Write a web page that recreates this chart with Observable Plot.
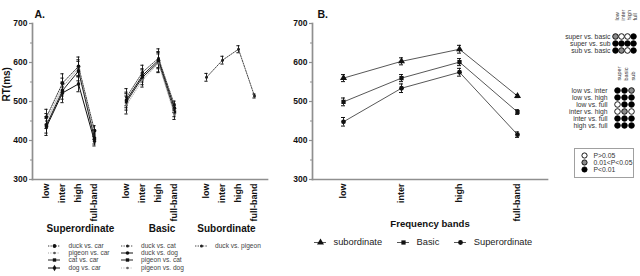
<!DOCTYPE html>
<html>
<head>
<meta charset="utf-8">
<script src="https://cdn.jsdelivr.net/npm/d3@7"></script>
<script src="https://cdn.jsdelivr.net/npm/@observablehq/plot@0.6"></script>
<style>
  html, body { margin: 0; padding: 0; background: #fff; }
  #root { position: relative; width: 640px; height: 276px; overflow: hidden; font-family: "Liberation Sans", Arial, sans-serif; }
  .abs { position: absolute; }
  .abs svg { display: block; }
  .lrow { display: flex; align-items: center; }
  .lrow svg { display: block; flex: none; }
</style>
</head>
<body>
<div id="root"></div>
<script>
// ---------------- data ----------------
const bands = ["low", "inter", "high", "full-band"];
const groupNames = ["Superordinate", "Basic", "Subordinate"];

const superSeries = ["duck vs. car", "pigeon vs. car", "cat vs. car", "dog vs. car"];
const superRT  = [[460, 547, 590, 425], [450, 537, 585, 415], [440, 528, 578, 405], [435, 522, 545, 398]];
const superErr = [[20, 24, 24, 13], [19, 23, 22, 12], [21, 22, 25, 14], [22, 25, 20, 12]];

const basicSeries = ["duck vs. cat", "duck vs. dog", "pigeon vs. cat", "pigeon vs. dog"];
const basicRT  = [[511, 575, 611, 491], [504, 567, 606, 483], [499, 562, 601, 473], [491, 555, 598, 466]];
const basicErr = [[22, 18, 24, 10], [20, 17, 22, 11], [21, 19, 25, 12], [23, 18, 24, 12]];

const subSeries = ["duck vs. pigeon"];
const subRT  = [[562, 606, 634, 514]];
const subErr = [[10, 10, 9, 5]];

const levels = ["subordinate", "Basic", "Superordinate"];
const levelRT  = [[560, 603, 634, 514], [499, 560, 601, 473], [448, 534, 575, 415]];
const levelErr = [[9, 9, 10, 4], [10, 9, 9, 6], [11, 11, 10, 7]];

const yTicks = [300, 400, 500, 600, 700];
const yMinor = [350, 450, 550, 650];

const cmpLevels = ["super vs. basic", "super vs. sub", "sub vs. basic"];
const cmpLevelCols = ["low", "inter", "high", "full"];
const cmpLevelSig = [[1, 0, 0, 2], [2, 2, 2, 2], [2, 1, 0, 2]];

const cmpBands = ["low vs. inter", "low vs. high", "low vs. full", "inter vs. high", "inter vs. full", "high vs. full"];
const cmpBandCols = ["super", "basic", "sub"];
const cmpBandSig = [[2, 2, 1], [2, 2, 2], [0, 2, 2], [0, 1, 0], [2, 2, 2], [2, 2, 2]];

const sigLabels = ["P>0.05", "0.01<P<0.05", "P<0.01"];

// ---------------- styles ----------------
const FONT = "'Liberation Sans', Arial, sans-serif";
const AXIS = "#8f8f8f";
const sigFill = ["#ffffff", "#8a8a8a", "#000000"];
const seriesStyle = {
  "duck vs. car":    {stroke: "#222", width: 0.9, dash: "1.3,1.2", symbol: "circle",  r: 1.9, fill: "#111"},
  "pigeon vs. car":  {stroke: "#999", width: 0.9, dash: "1,1.4",   symbol: "circle",  r: 1.3, fill: "#555"},
  "cat vs. car":     {stroke: "#222", width: 1.0, dash: null,      symbol: "square",  r: 1.9, fill: "#111"},
  "dog vs. car":     {stroke: "#111", width: 1.0, dash: null,      symbol: "diamond", r: 2.0, fill: "#111"},
  "duck vs. cat":    {stroke: "#333", width: 0.9, dash: "1.3,1.2", symbol: "circle",  r: 1.5, fill: "#222"},
  "duck vs. dog":    {stroke: "#111", width: 1.0, dash: null,      symbol: "circle",  r: 1.8, fill: "#111"},
  "pigeon vs. cat":  {stroke: "#222", width: 1.0, dash: null,      symbol: "square",  r: 1.9, fill: "#111"},
  "pigeon vs. dog":  {stroke: "#aaa", width: 0.9, dash: "1,1.4",   symbol: "circle",  r: 1.3, fill: "#666"},
  "duck vs. pigeon": {stroke: "#333", width: 0.9, dash: "1.4,1.2", symbol: "circle",  r: 1.5, fill: "#222"}
};
const levelStyle = {
  "subordinate":   {stroke: "#444", width: 0.9, dash: null, symbol: "triangle", r: 2.6, fill: "#111"},
  "Basic":         {stroke: "#444", width: 0.9, dash: null, symbol: "square",   r: 2.4, fill: "#111"},
  "Superordinate": {stroke: "#444", width: 0.9, dash: null, symbol: "circle",   r: 2.4, fill: "#111"}
};
const groupLabelDx = {"Superordinate": 18, "Basic": 19.5, "Subordinate": 4};
const baseStyle = {background: "transparent", overflow: "visible", fontFamily: FONT};

const root = document.getElementById("root");
function place(node, left, top) {
  const d = document.createElement("div");
  d.className = "abs";
  d.style.left = left + "px";
  d.style.top = top + "px";
  d.append(node);
  root.append(d);
  return d;
}

function errorMarks(d, xKey, w) {
  return [
    Plot.ruleX(d, {x: xKey, y1: r => r.rt - r.err, y2: r => r.rt + r.err, stroke: "#111", strokeWidth: 0.9}),
    Plot.ruleY(d, {x1: xKey, x2: xKey, y: r => r.rt - r.err, insetLeft: -w, insetRight: -w, stroke: "#111", strokeWidth: 1}),
    Plot.ruleY(d, {x1: xKey, x2: xKey, y: r => r.rt + r.err, insetLeft: -w, insetRight: -w, stroke: "#111", strokeWidth: 1})
  ];
}

function yAxisMarks() {
  return [
    Plot.axisY(yTicks, {tickSize: 3, tickPadding: 2, stroke: AXIS, strokeWidth: 1.2, fill: "#111",
      fontWeight: "bold", fontSize: 8.5, label: null}),
    Plot.axisY(yMinor, {tickSize: 2, tickFormat: () => "", stroke: AXIS, strokeWidth: 1.2, label: null}),
    Plot.frame({anchor: "left", stroke: AXIS, strokeWidth: 1.7}),
    Plot.frame({anchor: "bottom", stroke: AXIS, strokeWidth: 1.7})
  ];
}

// ---------------- Panel A ----------------
const groupsA = [
  {name: groupNames[0], series: superSeries, rt: superRT, err: superErr},
  {name: groupNames[1], series: basicSeries, rt: basicRT, err: basicErr},
  {name: groupNames[2], series: subSeries, rt: subRT, err: subErr}
];
const xKeys = [];
groupsA.forEach((g, gi) => {
  if (gi) xKeys.push("gap" + gi);
  bands.forEach(b => xKeys.push(g.name + "|" + b));
});
const tickKeys = xKeys.filter(k => k.includes("|"));
const rowsA = groupsA.flatMap(g => g.series.flatMap((s, si) => bands.map((b, bi) => ({
  group: g.name, series: s, key: g.name + "|" + b, rt: g.rt[si][bi], err: g.err[si][bi]
}))));

const seriesMarksA = groupsA.flatMap(g => g.series.flatMap(s => {
  const st = seriesStyle[s];
  const d = rowsA.filter(r => r.series === s);
  return [
    Plot.line(d, {x: "key", y: "rt", stroke: st.stroke, strokeWidth: st.width, strokeDasharray: st.dash || undefined}),
    ...errorMarks(d, "key", 1.6),
    Plot.dot(d, {x: "key", y: "rt", symbol: st.symbol, r: st.r, fill: st.fill, stroke: "none"})
  ];
}));

const plotA = Plot.plot({
  width: 280, height: 276,
  marginLeft: 32, marginRight: 13, marginTop: 23, marginBottom: 97,
  style: baseStyle,
  x: {type: "point", domain: xKeys, padding: 0.5, axis: null, label: null},
  y: {domain: [300, 700], axis: null, label: null},
  marks: [
    ...yAxisMarks(),
    Plot.axisX(tickKeys, {tickFormat: k => k.split("|")[1], tickRotate: -90, tickSize: 0, tickPadding: 4,
      fontWeight: "bold", fontSize: 9, fill: "#111", label: null}),
    ...seriesMarksA,
    ...groupNames.map(n => Plot.text([n], {x: () => n + "|inter", text: d => d, frameAnchor: "bottom", dy: 52,
      dx: groupLabelDx[n], fontWeight: "bold", fontSize: 10, fill: "#111"})),
    Plot.text(["RT(ms)"], {frameAnchor: "left", rotate: -90, dx: -26, fontWeight: "bold", fontSize: 10, fill: "#111"}),
    Plot.text(["A."], {frameAnchor: "top-left", dx: 2, dy: -13, textAnchor: "start", fontWeight: "bold", fontSize: 10.5, fill: "#111"})
  ]
});
place(plotA, 0, 0);

// legend swatches (small Plot charts)
function swatch(st, w = 12, h = 7) {
  return Plot.plot({
    width: w, height: h, margin: 0, style: baseStyle,
    x: {domain: [0, 1], axis: null}, y: {domain: [0, 1], axis: null},
    marks: [
      Plot.ruleY([0.5], {stroke: st.stroke, strokeWidth: st.width, strokeDasharray: st.dash || undefined}),
      Plot.dot([[0.5, 0.5]], {x: d => d[0], y: d => d[1], symbol: st.symbol, r: st.r, fill: st.fill, stroke: "none"})
    ]
  });
}
function legendA(series, left, top) {
  const box = document.createElement("div");
  series.forEach(s => {
    const row = document.createElement("div");
    row.className = "lrow";
    row.style.height = "7.2px";
    const sw = swatch(seriesStyle[s]);
    sw.style.marginRight = "8.5px";
    const t = document.createElement("span");
    t.textContent = s;
    t.style.cssText = "font-size:6.6px;color:#444;line-height:7.2px;white-space:nowrap;";
    row.append(sw, t);
    box.append(row);
  });
  place(box, left, top);
}
legendA(superSeries, 48, 242);
legendA(basicSeries, 120.5, 242);
legendA(subSeries, 194.5, 242);

// ---------------- Panel B ----------------
const rowsB = levels.flatMap((l, li) => bands.map((b, bi) => ({level: l, band: b, rt: levelRT[li][bi], err: levelErr[li][bi]})));
const seriesMarksB = levels.flatMap(l => {
  const st = levelStyle[l];
  const d = rowsB.filter(r => r.level === l);
  return [
    Plot.line(d, {x: "band", y: "rt", stroke: st.stroke, strokeWidth: st.width}),
    ...errorMarks(d, "band", 2),
    Plot.dot(d, {x: "band", y: "rt", symbol: st.symbol, r: st.r, fill: st.fill, stroke: "none"})
  ];
});
const plotB = Plot.plot({
  width: 280, height: 276,
  marginLeft: 32, marginRight: 13, marginTop: 23, marginBottom: 97,
  style: baseStyle,
  x: {type: "point", domain: bands, padding: 0.5, axis: null, label: null},
  y: {domain: [300, 700], axis: null, label: null},
  marks: [
    ...yAxisMarks(),
    Plot.axisX(bands, {tickRotate: -90, tickSize: 0, tickPadding: 4, fontWeight: "bold", fontSize: 9, fill: "#111", label: null}),
    ...seriesMarksB,
    Plot.text(["Frequency bands"], {frameAnchor: "bottom", dy: 47, fontWeight: "bold", fontSize: 9.6, fill: "#111"}),
    Plot.text(["B."], {frameAnchor: "top-left", dx: 5, dy: -13, textAnchor: "start", fontWeight: "bold", fontSize: 10.5, fill: "#111"})
  ]
});
place(plotB, 280, 0);

// legend B
const legB = document.createElement("div");
legB.style.cssText = "display:flex;align-items:center;height:10px;";
levels.forEach(l => {
  const sw = swatch(levelStyle[l], 12, 8);
  sw.style.marginRight = "7.5px";
  const t = document.createElement("span");
  t.textContent = l;
  t.style.cssText = "font-size:9.3px;color:#222;white-space:nowrap;margin-right:15px;";
  legB.append(sw, t);
});
place(legB, 314, 237);

// ---------------- significance matrices ----------------
function matrix(rowsLab, cols, sig, opts) {
  const cells = rowsLab.flatMap((r, ri) => cols.map((c, ci) => ({row: r, col: c, s: sig[ri][ci]})));
  return Plot.plot({
    width: opts.width, height: opts.height,
    marginLeft: opts.ml, marginRight: opts.mr, marginTop: opts.mt, marginBottom: opts.mb,
    style: baseStyle,
    x: {type: "point", domain: cols, padding: 0, axis: null, label: null},
    y: {type: "point", domain: rowsLab, padding: 0, axis: null, label: null},
    marks: [
      Plot.axisY({tickSize: 0, tickPadding: opts.pad, fontSize: 6.8, fill: "#333", label: null}),
      Plot.text(cols, {x: d => d, frameAnchor: "top", dy: opts.hdy, rotate: -90, textAnchor: "start",
        fontSize: 5.6, fill: "#333"}),
      Plot.dot(cells, {x: "col", y: "row", r: 2.8, fill: d => sigFill[d.s], stroke: "#000", strokeWidth: 0.9})
    ]
  });
}
place(matrix(cmpLevels, cmpLevelCols, cmpLevelSig,
  {width: 80, height: 56, ml: 54, mr: 7, mt: 36, mb: 6, pad: 4, hdy: -16}), 560, 0);
place(matrix(cmpBands, cmpBandCols, cmpBandSig,
  {width: 80, height: 132, ml: 56, mr: 9, mt: 89, mb: 6, pad: 9, hdy: -9}), 560, 0);

// p-value legend box
const pBox = Plot.plot({
  width: 58, height: 28, marginLeft: 0, marginRight: 0, marginTop: 5, marginBottom: 8,
  style: baseStyle,
  y: {type: "point", domain: sigLabels, padding: 0, axis: null, label: null},
  marks: [
    Plot.dot(sigLabels, {y: d => d, frameAnchor: "left", dx: 9, r: 2.6, fill: (d, i) => sigFill[i], stroke: "#000", strokeWidth: 0.9}),
    Plot.text(sigLabels, {y: d => d, frameAnchor: "left", dx: 18, textAnchor: "start", fontSize: 6.8, fill: "#333"})
  ]
});
const pWrap = place(pBox, 574, 148);
pWrap.style.border = "1px solid #a0a0a0";
</script>
</body>
</html>
